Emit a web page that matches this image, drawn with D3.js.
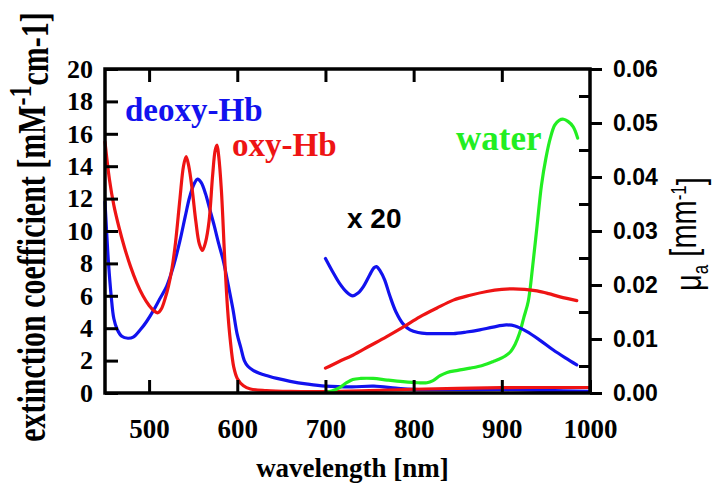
<!DOCTYPE html>
<html>
<head>
<meta charset="utf-8">
<script src="https://cdn.jsdelivr.net/npm/d3@7"></script>
<style>
  html, body { margin: 0; padding: 0; background: #fff; }
  svg { display: block; }
</style>
</head>
<body>
<svg id="chart" width="715" height="486"></svg>
<script>
// Extinction coefficients of haemoglobin [mM^-1 cm^-1], left axis
const oxyWl  = [450, 455, 460, 466, 472, 479, 486, 493, 500, 506, 510, 514, 518, 522, 526, 530, 535, 539, 542, 545, 549, 553, 557, 560.5, 564, 568, 572, 575, 577, 579, 582, 586, 589, 592, 596, 600, 607, 615, 633, 660, 700, 750, 800, 850, 900, 950, 1000];
const oxyEps = [15.5, 13.2, 11.6, 10.2, 9.0, 7.8, 6.8, 6.0, 5.4, 5.05, 4.95, 5.2, 5.8, 6.6, 7.7, 9.3, 12.0, 14.0, 14.6, 14.0, 12.5, 10.6, 9.2, 8.8, 9.3, 10.6, 13.4, 15.0, 15.3, 14.6, 12.5, 8.0, 5.2, 3.3, 1.6, 0.9, 0.45, 0.25, 0.15, 0.1, 0.09, 0.15, 0.23, 0.29, 0.33, 0.34, 0.34];

const deoxyWl  = [450, 452, 454, 457, 460, 464, 469, 476, 482, 490, 497, 505, 512, 520, 528, 535, 541, 546, 551, 555, 559, 564, 569, 574, 579, 584, 590, 595, 600, 604, 608, 612, 618, 625, 635, 645, 660, 680, 700, 730, 755, 780, 800, 850, 900, 950, 1000];
const deoxyEps = [11.8, 9.8, 8.0, 6.0, 4.6, 3.9, 3.5, 3.38, 3.45, 3.9, 4.4, 5.1, 5.8, 6.6, 7.9, 9.4, 10.9, 12.1, 12.9, 13.2, 13.0, 12.3, 11.3, 10.3, 9.2, 8.2, 6.6, 5.2, 3.6, 2.8, 2.0, 1.65, 1.4, 1.22, 1.05, 0.9, 0.72, 0.55, 0.43, 0.38, 0.42, 0.3, 0.22, 0.2, 0.22, 0.16, 0.1];

// Absorption coefficients mu_a [mm^-1], right axis (haemoglobin curves magnified x 20)
const nirWl     = [700, 708, 716, 724, 731, 737, 743, 750, 755, 758, 762, 767, 773, 780, 788, 796, 805, 815, 830, 845, 860, 875, 890, 905, 915, 928, 943, 958, 972, 985];
const deoxyMuA  = [0.0249, 0.0225, 0.0203, 0.0187, 0.0180, 0.0185, 0.0197, 0.0218, 0.0232, 0.0234, 0.0226, 0.0210, 0.0180, 0.0150, 0.0128, 0.0117, 0.0112, 0.0110, 0.0110, 0.0110, 0.0113, 0.0117, 0.0122, 0.0126, 0.0124, 0.0114, 0.0098, 0.0080, 0.0065, 0.0052];

const oxyNirWl = [700, 715, 731, 750, 769, 788, 807, 826, 845, 864, 883, 900, 913, 926, 940, 953, 966, 985];
const oxyMuA   = [0.0046, 0.0058, 0.0070, 0.0087, 0.0104, 0.0122, 0.0141, 0.0157, 0.0172, 0.0181, 0.0188, 0.0192, 0.0193, 0.0192, 0.0189, 0.0184, 0.0178, 0.0171];

const waterWl  = [700, 708, 716, 724, 731, 740, 754, 770, 788, 805, 815, 822, 830, 838, 850, 864, 878, 890, 900, 909, 915, 920, 925, 930, 935, 940, 945, 950, 955, 960, 965, 970, 975, 981, 986];
const waterMuA = [0.0001, 0.0004, 0.0010, 0.0019, 0.0025, 0.0027, 0.0027, 0.0024, 0.0021, 0.0019, 0.0019, 0.0023, 0.0032, 0.0038, 0.0042, 0.0046, 0.0051, 0.0058, 0.0065, 0.0075, 0.0090, 0.0110, 0.0140, 0.0170, 0.0235, 0.0310, 0.0385, 0.0435, 0.0472, 0.0496, 0.0505, 0.0507, 0.0503, 0.0493, 0.0472];

// Axis ticks
const xTicks      = [500, 600, 700, 800, 900, 1000];
const yLeftTicks  = [0, 2, 4, 6, 8, 10, 12, 14, 16, 18, 20];
const yRightTicks = [0, 0.01, 0.02, 0.03, 0.04, 0.05, 0.06];
const yRightMinor = [0.005, 0.015, 0.025, 0.035, 0.045, 0.055];

const BLUE = "#1212ee", RED = "#ee1414", GREEN = "#22ee22";
const SERIF = "'Liberation Serif', 'Times New Roman', Times, serif";
const SANS  = "'Liberation Sans', Arial, Helvetica, sans-serif";

const svg = d3.select("#chart");
svg.append("rect").attr("width", 715).attr("height", 486).attr("fill", "#fff");

const x  = d3.scaleLinear().domain([450, 1000]).range([105, 590]);
const yL = d3.scaleLinear().domain([0, 20]).range([393, 69]);
const yR = d3.scaleLinear().domain([0, 0.06]).range([393, 69]);

const lineL = d3.line().x(d => x(d[0])).y(d => yL(d[1])).curve(d3.curveCatmullRom.alpha(0.5));
const lineR = d3.line().x(d => x(d[0])).y(d => yR(d[1])).curve(d3.curveCatmullRom.alpha(0.5));

const curves = svg.append("g").attr("fill", "none").attr("stroke-width", 3.2).attr("stroke-linejoin", "round").attr("stroke-linecap", "round");
curves.append("path").attr("d", lineL(d3.zip(deoxyWl, deoxyEps))).attr("stroke", BLUE);
curves.append("path").attr("d", lineL(d3.zip(oxyWl, oxyEps))).attr("stroke", RED);
curves.append("path").attr("d", lineR(d3.zip(waterWl, waterMuA))).attr("stroke", GREEN);
curves.append("path").attr("d", lineR(d3.zip(nirWl, deoxyMuA))).attr("stroke", BLUE);
curves.append("path").attr("d", lineR(d3.zip(oxyNirWl, oxyMuA))).attr("stroke", RED);

// Axes
function styleAxis(g, font, size) {
  g.select(".domain").remove();
  g.selectAll(".tick line").attr("stroke", "#000").attr("stroke-width", 3);
  g.selectAll(".tick text").attr("fill", "#000").style("font-family", font)
    .style("font-size", size + "px").style("font-weight", "bold");
}

svg.append("g").attr("transform", `translate(${x(450)},0)`)
  .call(d3.axisLeft(yL).tickValues(yLeftTicks).tickSizeInner(-13).tickSizeOuter(0).tickPadding(12).tickFormat(d3.format("d")))
  .call(g => styleAxis(g, SERIF, 26));

svg.append("g").attr("transform", `translate(0,${yL(0)})`)
  .call(d3.axisBottom(x).tickValues(xTicks).tickSizeInner(-13).tickSizeOuter(0).tickPadding(26).tickFormat(d3.format("d")))
  .call(g => styleAxis(g, SERIF, 27));

svg.append("g").attr("transform", `translate(0,${yL(20)})`)
  .call(d3.axisTop(x).tickValues(xTicks.slice(0, -1)).tickSizeInner(-13).tickSizeOuter(0).tickFormat(""))
  .call(g => styleAxis(g, SERIF, 10));

svg.append("g").attr("transform", `translate(${x(1000)},0)`)
  .call(d3.axisRight(yR).tickValues(yRightMinor).tickSizeInner(-11).tickSizeOuter(0).tickFormat(""))
  .call(g => styleAxis(g, SANS, 10));

svg.append("g").attr("transform", `translate(${x(1000)},0)`)
  .call(d3.axisRight(yR).tickValues(yRightTicks).tickSizeInner(12).tickSizeOuter(0).tickPadding(11).tickFormat(d3.format(".2f")))
  .call(g => styleAxis(g, SANS, 23));

// Plot frame
svg.append("rect")
  .attr("x", x(450)).attr("y", yL(20))
  .attr("width", x(1000) - x(450)).attr("height", yL(0) - yL(20))
  .attr("fill", "none").attr("stroke", "#000").attr("stroke-width", 3.5);

// Axis titles
const leftTitle = svg.append("text")
  .attr("transform", "translate(45,227) rotate(-90) scale(1,1.35)")
  .attr("text-anchor", "middle")
  .style("font-family", SERIF).style("font-size", "30px").style("font-weight", "bold");
leftTitle.append("tspan").text("extinction coefficient [mM");
leftTitle.append("tspan").attr("dy", "-0.42em").style("font-size", "24px").text("-1");
leftTitle.append("tspan").attr("dy", "0.42em").text("cm-1]");

const rightTitle = svg.append("text")
  .attr("transform", "translate(701,234) rotate(-90) scale(1,1.3)")
  .attr("text-anchor", "middle")
  .style("font-family", SANS).style("font-size", "29px");
rightTitle.append("tspan").text("μ");
rightTitle.append("tspan").attr("dy", "0.3em").style("font-size", "17px").text("a");
rightTitle.append("tspan").attr("dy", "-0.3em").text(" [mm");
rightTitle.append("tspan").attr("dy", "-0.45em").style("font-size", "17px").text("-1");
rightTitle.append("tspan").attr("dy", "0.45em").text("]");

svg.append("text")
  .attr("x", (x(450) + x(1000)) / 2 + 5).attr("y", 477)
  .attr("text-anchor", "middle")
  .style("font-family", SERIF).style("font-size", "27px").style("font-weight", "bold")
  .text("wavelength [nm]");

// Curve annotations
const notes = [
  { t: "deoxy-Hb", x: 125, y: 121, c: BLUE,  f: SERIF, s: 33 },
  { t: "oxy-Hb",   x: 232, y: 156, c: RED,   f: SERIF, s: 33 },
  { t: "water",    x: 456, y: 150, c: GREEN, f: SERIF, s: 35 },
  { t: "x 20",     x: 347, y: 228, c: "#000", f: SANS, s: 28 }
];
svg.selectAll("text.note").data(notes).enter().append("text")
  .attr("class", "note")
  .attr("x", d => d.x).attr("y", d => d.y)
  .attr("fill", d => d.c)
  .style("font-family", d => d.f).style("font-size", d => d.s + "px").style("font-weight", "bold")
  .text(d => d.t);
</script>
</body>
</html>
